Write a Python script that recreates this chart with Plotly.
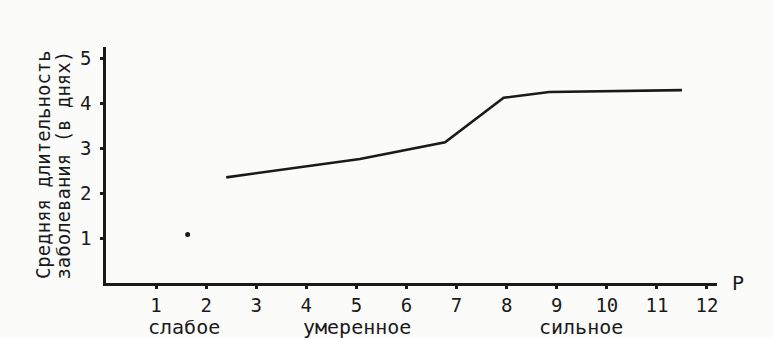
import plotly.graph_objects as go

# Data
p_values = [2.4, 5.07, 6.77, 7.94, 8.85, 11.5]
duration_days = [2.35, 2.76, 3.13, 4.12, 4.25, 4.29]

dot_x = [1.63]
dot_y = [1.08]

x_ticks = [1, 2, 3, 4, 5, 6, 7, 8, 9, 10, 11, 12]
y_ticks = [1, 2, 3, 4, 5]

severity_labels = ["слабое", "умеренное", "сильное"]
severity_pos = [1.55, 5.02, 9.48]

y_title_lines = ["Средняя длительность", "заболевания (в днях)"]
x_title = "P"

FONT = "DejaVu Sans Mono"
INK = "#1a1a1a"

fig = go.Figure()
fig.add_trace(go.Scatter(x=p_values, y=duration_days, mode="lines",
                         line=dict(color=INK, width=2.6), hoverinfo="skip"))
fig.add_trace(go.Scatter(x=dot_x, y=dot_y, mode="markers",
                         marker=dict(color=INK, size=5), hoverinfo="skip"))

for lab, pos in zip(severity_labels, severity_pos):
    fig.add_annotation(x=pos, y=-0.185, xref="x", yref="paper", text=lab,
                       showarrow=False, font=dict(family=FONT, size=20, color=INK),
                       xanchor="center", yanchor="middle")

fig.add_annotation(x=1.035, y=0.0, xref="paper", yref="paper", text=x_title,
                   showarrow=False, font=dict(family=FONT, size=20, color=INK),
                   xanchor="center", yanchor="middle")

for txt, xp in zip(y_title_lines, [-0.103, -0.071]):
    fig.add_annotation(x=xp, y=0.5, xref="paper", yref="paper", text=txt,
                       showarrow=False, textangle=-90,
                       font=dict(family=FONT, size=19, color=INK),
                       xanchor="center", yanchor="middle")

fig.update_layout(
    width=773, height=338,
    margin=dict(l=106, r=56, t=47, b=55),
    paper_bgcolor="#fbfbfa", plot_bgcolor="#fbfbfa",
    showlegend=False,
    font=dict(family=FONT, size=18, color=INK),
)
fig.update_xaxes(range=[0, 12.2], tickvals=x_ticks, ticktext=[str(v) for v in x_ticks],
                 showgrid=False, zeroline=False, showline=True, linecolor=INK, linewidth=2.5,
                 ticks="outside", ticklen=3, tickwidth=3, tickcolor=INK,
                 tickfont=dict(family=FONT, size=19, color=INK))
fig.update_yaxes(range=[0, 5.25], tickvals=y_ticks, ticktext=[str(v) for v in y_ticks],
                 showgrid=False, zeroline=False, showline=True, linecolor=INK, linewidth=2.5,
                 ticks="outside", ticklen=3, tickwidth=3, tickcolor=INK,
                 ticklabelstandoff=5,
                 tickfont=dict(family=FONT, size=19, color=INK))

fig.write_html("out.html")
